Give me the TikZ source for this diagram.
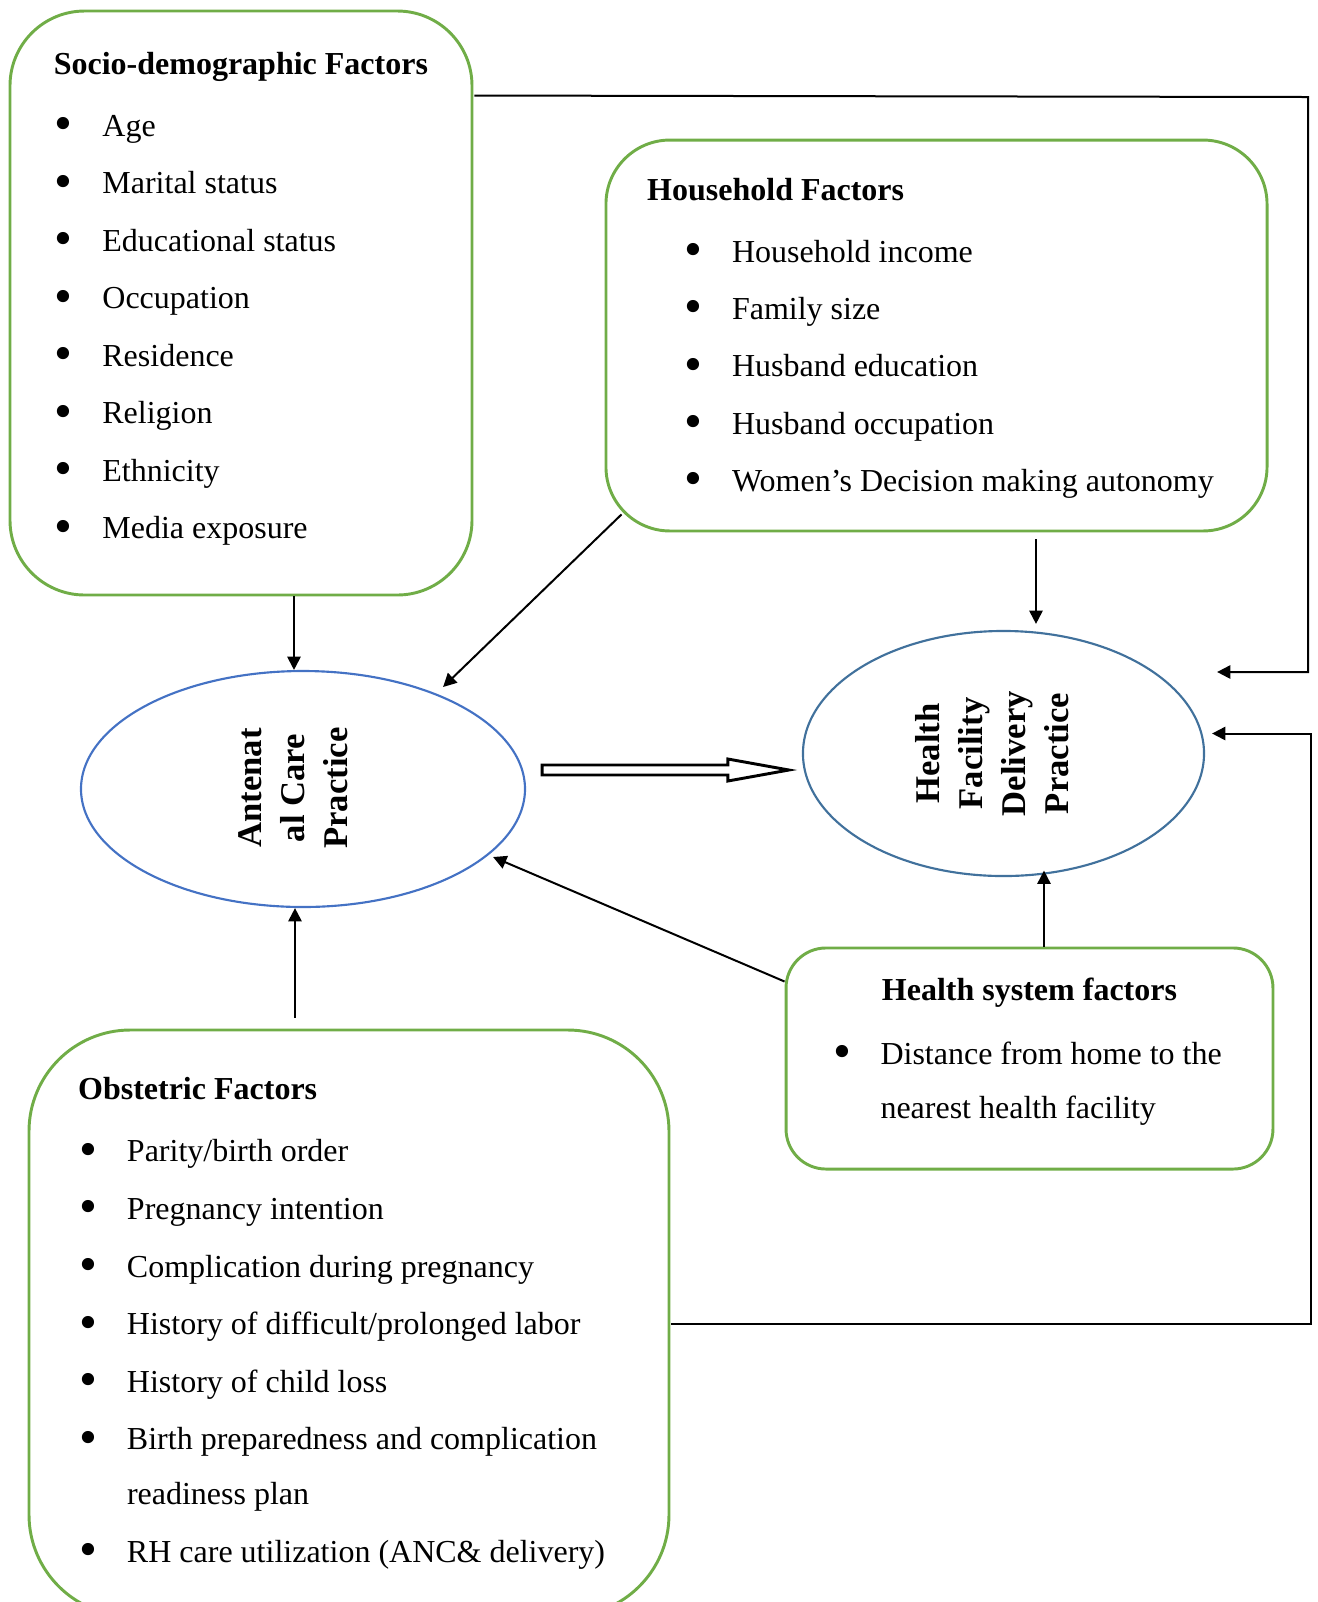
\documentclass[tikz,border=0pt]{standalone}
\usepackage{fontspec}
\setmainfont{Liberation Serif}
\usetikzlibrary{shapes.geometric,arrows.meta,calc}
\definecolor{boxgreen}{HTML}{70AD47}
\definecolor{ancblue}{HTML}{4472C4}
\definecolor{hfdblue}{HTML}{41719C}
\newcommand{\bul}[1]{\makebox[17.8pt][l]{\raisebox{-1.6pt}{\scalebox{1.6}{\textbullet}}}#1}
\newcommand{\bulcont}[1]{\hspace*{17.8pt}#1}
\tikzset{
  box/.style={draw=boxgreen,line width=1.1pt,rounded corners=#1,inner sep=0pt},
  elli/.style={ellipse,draw=#1,line width=0.8pt,inner sep=0pt},
  ttl/.style={anchor=base west,inner sep=0pt,font=\bfseries\fontsize{12}{14}\selectfont},
  lst/.style={anchor=base west,inner sep=0pt,align=left,font=\fontsize{12}{#1}\selectfont},
  etxt/.style={rotate=90,inner sep=0pt,align=center,font=\bfseries\fontsize{13}{16.2}\selectfont},
  arr/.style={line width=0.75pt,-{Triangle[length=5pt,width=5pt]}},
  dblarr/.style={line width=1.1pt,line join=miter}
}

\begin{document}
\begin{tikzpicture}[x=0.375pt,y=-0.375pt]
\useasboundingbox (0,0) rectangle (1318,1602);

% factor boxes
\node[box=28pt,minimum width=173.25pt,minimum height=219pt] (socio) at (241,303) {};
\node[box=24pt,minimum width=247.9pt,minimum height=146.6pt] (hh) at (936.5,335.5) {};
\node[box=15pt,minimum width=182.6pt,minimum height=82.9pt] (hs) at (1029.5,1058.5) {};
\node[box=38pt,minimum width=240pt,minimum height=219.75pt] (obs) at (349,1323) {};

% outcome ellipses
\node[elli=ancblue,minimum width=166.5pt,minimum height=88.5pt] (anc) at (303,789) {};
\node[elli=hfdblue,minimum width=150.4pt,minimum height=91.9pt] (hfd) at (1003.5,753.5) {};
\node[etxt] (anc-t) at (293,788) {Antenat\\al Care\\Practice};
\node[etxt] (hfd-t) at (992,753.5) {Health\\Facility\\Delivery\\Practice};

% box texts (lists are placed at the baseline of their last line)
\node[ttl] (socio-t) at (53.3,74.7) {Socio-demographic Factors};
\node[lst=21.56pt] (socio-l) at (54.4,538.9) {\bul{Age}\\ \bul{Marital status}\\ \bul{Educational status}\\
  \bul{Occupation}\\ \bul{Residence}\\ \bul{Religion}\\ \bul{Ethnicity}\\ \bul{Media exposure}};

\node[ttl] (hh-t) at (646.7,200.5) {Household Factors};
\node[lst=21.5pt] (hh-l) at (684,491.5) {\bul{Household income}\\ \bul{Family size}\\ \bul{Husband education}\\
  \bul{Husband occupation}\\ \bul{Women’s Decision making autonomy}};

\node[ttl,anchor=base] (hs-t) at (1029.5,1000) {Health system factors};
\node[lst=20.25pt] (hs-l) at (832.5,1118) {\bul{Distance from home to the}\\ \bulcont{nearest health facility}};

\node[ttl] (obs-t) at (77.6,1099.8) {Obstetric Factors};
\node[lst=21.6pt] (obs-l) at (79,1562.5) {\bul{Parity/birth order}\\ \bul{Pregnancy intention}\\
  \bul{Complication during pregnancy}\\ \bul{History of difficult/prolonged labor}\\
  \bul{History of child loss}\\ \bul{Birth preparedness and complication}\\[-1pt]
  \bulcont{readiness plan}\\ \bul{RH care utilization (ANC\& delivery)}};

% corner points of the long connectors
\coordinate (c1) at (1308,97);
\coordinate (c2) at (1311,1324);

% connectors
\draw[arr] ($(socio.south)+(53,0)$) -- ($(anc.north)+(-9,0)$);
\draw[arr] ($(hh.south west)+(17,-18)$) -- ($(anc.east)+(-83,-102)$);
\draw[arr] ($(hh.south)+(99.5,7)$) -- ($(hfd.north)+(32.5,-6)$);
\draw[arr] ($(socio.north east)+(1,86)$) -- (c1) |- ($(hfd.east)+(12,-81.5)$);
\draw[arr] ($(obs.east)+(1,1)$) -- (c2) |- ($(hfd.east)+(7,-20)$);
\draw[arr] ($(obs.north)+(-54,-11)$) -- ($(anc.south)+(-8,0)$);
\draw[arr] ($(hs.north west)+(0,35)$) -- ($(anc.east)+(-33,68)$);
\draw[arr] ($(hs.north)+(14.5,0)$) -- ($(hfd.south)+(40.5,-6.5)$);

% block arrow between the outcomes
\coordinate (ds) at ($(anc.east)+(16,-19)$);
\coordinate (de) at ($(hfd.west)+(-13,16.5)$);
\draw[dblarr] ($(ds)+(0,-5)$) -- ($(de)+(-61,-5)$) -- ($(de)+(-61,-11)$) -- (de)
  -- ($(de)+(-61,11)$) -- ($(de)+(-61,5)$) -- ($(ds)+(0,5)$) -- cycle;
\end{tikzpicture}
\end{document}
